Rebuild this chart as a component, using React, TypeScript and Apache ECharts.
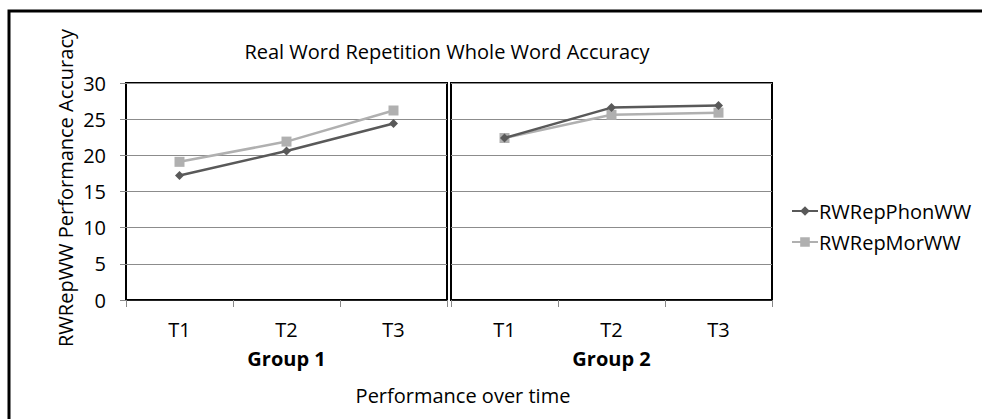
import React, { useEffect, useRef } from "react";
import * as echarts from "echarts";

const timePoints = ["T1", "T2", "T3"];
const groups = ["Group 1", "Group 2"];
const seriesNames = ["RWRepPhonWW", "RWRepMorWW"];
const phonGroup1 = [17.2, 20.6, 24.4];
const morGroup1 = [19.1, 21.9, 26.2];
const phonGroup2 = [22.4, 26.6, 26.9];
const morGroup2 = [22.4, 25.6, 25.9];
const yTicks = { min: 0, max: 30, interval: 5 };

const FONT = "Open Sans";
const PHON = "#595959";
const MOR = "#b0b0b0";

export default function App() {
  const ref = useRef<HTMLDivElement>(null);
  useEffect(() => {
    if (!ref.current) return;
    const chart = echarts.init(ref.current, null, { renderer: "svg" });
    const xAxisBase = (gi: number) => ({
      type: "category" as const,
      gridIndex: gi,
      data: timePoints,
      boundaryGap: true,
      name: groups[gi],
      nameLocation: "middle" as const,
      nameGap: 48,
      nameTextStyle: { fontFamily: FONT, fontSize: 20, fontWeight: "bold" as const, color: "#000" },
      axisLine: { show: true, lineStyle: { color: "#000", width: 1.5 } },
      axisTick: { show: true, length: 7, lineStyle: { color: "#888" } },
      axisLabel: { fontFamily: FONT, fontSize: 20, color: "#000", margin: 19 },
    });
    const yAxisBase = (gi: number) => ({
      type: "value" as const,
      gridIndex: gi,
      min: yTicks.min,
      max: yTicks.max,
      interval: yTicks.interval,
      axisLine: { show: false },
      axisTick: { show: gi === 0, length: 6, lineStyle: { color: "#888" } },
      axisLabel: { show: gi === 0, fontFamily: FONT, fontSize: 20, color: "#000", margin: 20 },
      splitLine: { show: true, lineStyle: { color: "#8c8c8c", width: 1 } },
    });
    const mk = (name: string, data: number[], gi: number, color: string, symbol: string, size: number) => ({
      name,
      type: "line" as const,
      xAxisIndex: gi,
      yAxisIndex: gi,
      data,
      symbol,
      symbolSize: size,
      lineStyle: { color, width: 2.5 },
      itemStyle: { color },
      z: name === seriesNames[0] ? 3 : 2,
    });
    chart.setOption({
      animation: false,
      backgroundColor: "#fff",
      title: {
        text: "Real Word Repetition Whole Word Accuracy",
        left: 442,
        top: 36,
        textAlign: "center",
        textStyle: { fontFamily: FONT, fontSize: 20, fontWeight: "normal", color: "#000" },
      },
      legend: {
        orient: "vertical",
        left: 786,
        top: 196,
        itemGap: 11,
        itemWidth: 26,
        itemHeight: 12,
        data: seriesNames,
        textStyle: { fontFamily: FONT, fontSize: 20, color: "#000", padding: [0, 0, 0, -4] },
      },
      grid: [
        { left: 126, top: 83, width: 321, height: 217, show: true, borderColor: "#000", borderWidth: 2, backgroundColor: "transparent" },
        { left: 451, top: 83, width: 321, height: 217, show: true, borderColor: "#000", borderWidth: 2, backgroundColor: "transparent" },
      ],
      xAxis: [xAxisBase(0), xAxisBase(1)],
      yAxis: [yAxisBase(0), yAxisBase(1)],
      series: [
        mk(seriesNames[0], phonGroup1, 0, PHON, "diamond", 9),
        mk(seriesNames[1], morGroup1, 0, MOR, "rect", 10),
        mk(seriesNames[0], phonGroup2, 1, PHON, "diamond", 9),
        mk(seriesNames[1], morGroup2, 1, MOR, "rect", 10),
      ],
      graphic: [
        {
          type: "rect",
          shape: { x: 9, y: 11, width: 1000, height: 500 },
          style: { fill: "none", stroke: "#000", lineWidth: 3 },
          silent: true,
          z: 100,
        },
        {
          type: "text",
          x: 463,
          y: 395,
          style: {
            text: "Performance over time",
            fontFamily: FONT,
            fontSize: 20,
            fill: "#000",
            align: "center",
            verticalAlign: "middle",
          },
        },
        {
          type: "text",
          x: 65,
          y: 188,
          rotation: Math.PI / 2,
          style: {
            text: "RWRepWW Performance Accuracy",
            fontFamily: FONT,
            fontSize: 20,
            fill: "#000",
            align: "center",
            verticalAlign: "middle",
          },
        },
      ],
    });
    return () => chart.dispose();
  }, []);
  return (
    <div
      ref={ref}
      style={{ position: "fixed", left: 0, top: 0, width: 982, height: 419 }}
    />
  );
}
